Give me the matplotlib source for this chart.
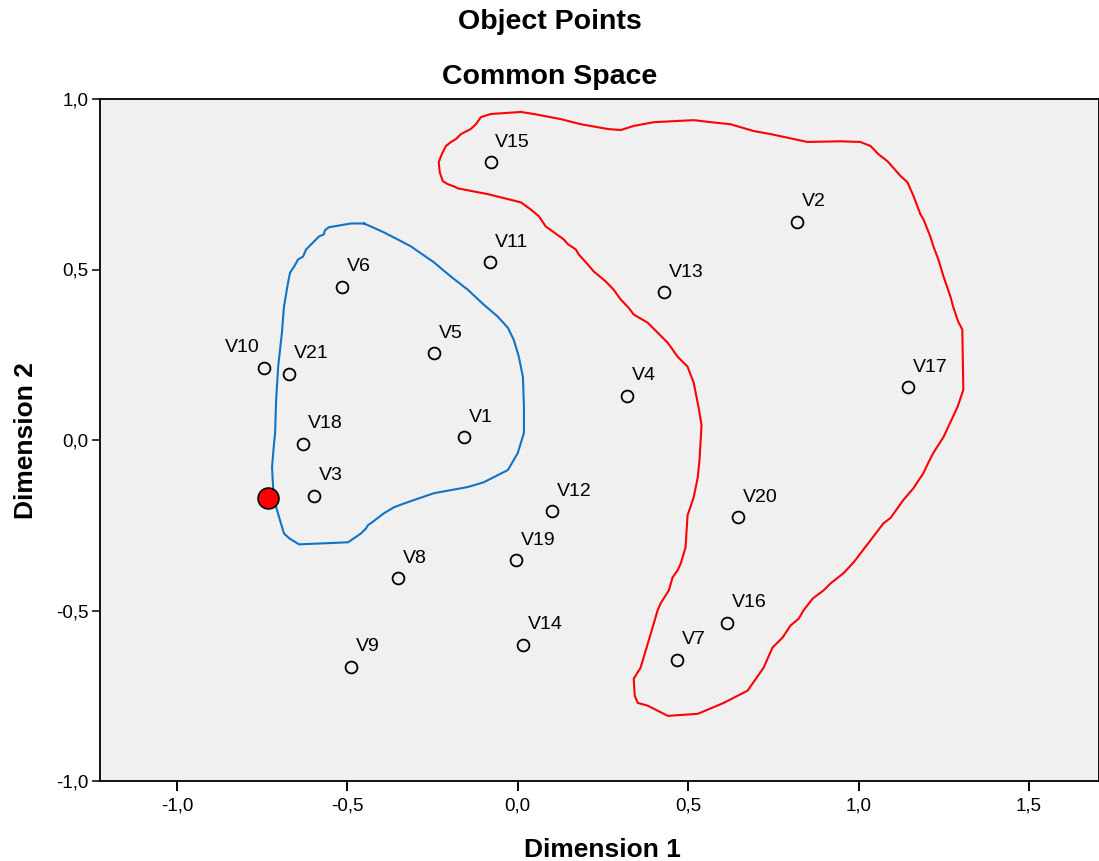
import numpy as np
import matplotlib
matplotlib.use("Agg")
import matplotlib.pyplot as plt

plt.rcParams['font.family'] = ['Liberation Sans', 'DejaVu Sans']

# object points (Dimension 1, Dimension 2)
labels = ['V1', 'V2', 'V3', 'V4', 'V5', 'V6', 'V7', 'V8', 'V9', 'V10', 'V11',
          'V12', 'V13', 'V14', 'V15', 'V16', 'V17', 'V18', 'V19', 'V20', 'V21']
dim1 = [-0.157, 0.820, -0.599, 0.320, -0.247, -0.517, 0.468, -0.352, -0.489, -0.745, -0.081,
        0.100, 0.429, 0.015, -0.080, 0.615, 1.145, -0.629, -0.006, 0.646, -0.670]
dim2 = [0.008, 0.639, -0.164, 0.129, 0.254, 0.449, -0.645, -0.406, -0.665, 0.211, 0.521,
        -0.209, 0.433, -0.600, 0.814, -0.537, 0.154, -0.011, -0.353, -0.227, 0.194]

# highlighted point
red_pt = (-0.734, -0.170)

# hand drawn group outlines
blue_x = [-0.451, -0.489, -0.554, -0.566, -0.569, -0.583, -0.601, -0.621, -0.630, -0.645,
          -0.656, -0.668, -0.674, -0.686, -0.692, -0.703, -0.709, -0.712, -0.715, -0.721,
          -0.718, -0.709, -0.695, -0.686, -0.671, -0.642, -0.498, -0.460, -0.445, -0.440,
          -0.431, -0.393, -0.363, -0.322, -0.246, -0.147, -0.100, -0.029, 0.000, 0.018,
          0.018, 0.015, 0.003, -0.012, -0.029, -0.059, -0.100, -0.147, -0.196, -0.246,
          -0.314, -0.352, -0.393, -0.451]
blue_y = [0.635, 0.635, 0.624, 0.615, 0.603, 0.597, 0.579, 0.559, 0.538, 0.529,
          0.509, 0.491, 0.462, 0.391, 0.315, 0.215, 0.118, 0.021, -0.009, -0.079,
          -0.138, -0.197, -0.244, -0.274, -0.288, -0.306, -0.300, -0.274, -0.259, -0.250,
          -0.244, -0.215, -0.197, -0.182, -0.156, -0.138, -0.124, -0.088, -0.038, 0.021,
          0.097, 0.185, 0.244, 0.294, 0.329, 0.362, 0.397, 0.441, 0.479, 0.521,
          0.568, 0.588, 0.609, 0.635]

red_x = [0.009, -0.079, -0.108, -0.123, -0.138, -0.167, -0.182, -0.196, -0.211, -0.223,
         -0.232, -0.229, -0.220, -0.205, -0.188, -0.176, -0.088, 0.009, 0.038, 0.062,
         0.082, 0.106, 0.135, 0.147, 0.170, 0.179, 0.205, 0.223, 0.234, 0.258,
         0.281, 0.302, 0.325, 0.340, 0.381, 0.410, 0.440, 0.469, 0.498, 0.516,
         0.530, 0.539, 0.533, 0.528, 0.516, 0.498, 0.492, 0.478, 0.469, 0.454,
         0.443, 0.419, 0.410, 0.390, 0.360, 0.340, 0.343, 0.352, 0.381, 0.440,
         0.528, 0.604, 0.674, 0.721, 0.747, 0.777, 0.800, 0.824, 0.838, 0.865,
         0.897, 0.917, 0.955, 0.985, 1.073, 1.093, 1.131, 1.161, 1.172, 1.190,
         1.205, 1.219, 1.249, 1.275, 1.290, 1.307, 1.304, 1.292, 1.278, 1.269,
         1.249, 1.234, 1.219, 1.210, 1.190, 1.181, 1.161, 1.143, 1.123, 1.084,
         1.058, 1.035, 1.005, 0.947, 0.850, 0.742, 0.692, 0.624, 0.566, 0.516,
         0.399, 0.340, 0.302, 0.264, 0.185, 0.126, 0.047, 0.009]
red_y = [0.962, 0.956, 0.947, 0.926, 0.912, 0.897, 0.882, 0.874, 0.862, 0.838,
         0.815, 0.785, 0.759, 0.750, 0.744, 0.738, 0.721, 0.697, 0.676, 0.656,
         0.626, 0.609, 0.588, 0.574, 0.559, 0.544, 0.515, 0.494, 0.485, 0.465,
         0.441, 0.412, 0.388, 0.368, 0.344, 0.315, 0.285, 0.244, 0.215, 0.168,
         0.097, 0.044, -0.059, -0.109, -0.168, -0.221, -0.315, -0.362, -0.382, -0.403,
         -0.441, -0.479, -0.500, -0.568, -0.668, -0.700, -0.750, -0.771, -0.779, -0.809,
         -0.803, -0.771, -0.735, -0.668, -0.609, -0.579, -0.544, -0.524, -0.500, -0.465,
         -0.441, -0.421, -0.391, -0.359, -0.244, -0.229, -0.176, -0.141, -0.124, -0.097,
         -0.065, -0.038, 0.009, 0.065, 0.097, 0.147, 0.324, 0.347, 0.388, 0.421,
         0.479, 0.529, 0.568, 0.597, 0.647, 0.662, 0.715, 0.756, 0.774, 0.818,
         0.838, 0.862, 0.874, 0.876, 0.874, 0.897, 0.906, 0.926, 0.932, 0.938,
         0.932, 0.921, 0.909, 0.912, 0.926, 0.941, 0.956, 0.962]

xticks = [-1.0, -0.5, 0.0, 0.5, 1.0, 1.5]
yticks = [-1.0, -0.5, 0.0, 0.5, 1.0]

fig = plt.figure(figsize=(10.99, 8.61), dpi=100)
ax = fig.add_axes([100 / 1099, 80 / 861, 1 - 100 / 1099, 682 / 861])
ax.set_facecolor('#f0f0f0')

ax.plot(blue_x, blue_y, color='#1272c4', lw=1.5, zorder=2)
ax.plot(red_x, red_y, color='#ff0000', lw=1.5, zorder=2)

ax.plot(dim1, dim2, 'o', ms=8.5, mfc='none', mec='black', mew=1.3, zorder=3)
ax.plot(*red_pt, 'o', ms=15, mfc='#ff0000', mec='black', mew=1.2, zorder=4)

for lab, x, y in zip(labels, dim1, dim2):
    if lab == 'V10':
        ax.annotate(lab, (x, y), xytext=(-3, 14.5), textcoords='offset points',
                    ha='right', va='center', fontsize=14)
    else:
        ax.annotate(lab, (x, y), xytext=(3.5, 14.5), textcoords='offset points',
                    ha='left', va='center', fontsize=14)

ax.set_xlim(-1.2257, 1.705)
ax.set_ylim(-1.0, 1.0)
ax.set_xticks(xticks)
ax.set_yticks(yticks)
ax.set_xticklabels([f'{t:.1f}'.replace('.', ',') for t in xticks])
ax.set_yticklabels([f'{t:.1f}'.replace('.', ',') for t in yticks])
ax.tick_params(axis='x', direction='out', length=7, width=1.4, pad=5, labelsize=13.5)
ax.tick_params(axis='y', direction='out', length=5.5, width=1.1, pad=3, labelsize=13.5)
for s in ax.spines.values():
    s.set_linewidth(1.3)

fig.text(0.5, 1 - 22 / 861, 'Object Points', ha='center', va='center',
         fontsize=20.5, fontweight='bold')
fig.text(0.5, 1 - 77 / 861, 'Common Space', ha='center', va='center',
         fontsize=20.5, fontweight='bold')
fig.text(602 / 1099, 1 - 850 / 861, 'Dimension 1', ha='center', va='center',
         fontsize=19, fontweight='bold')
fig.text(26 / 1099, 1 - 441 / 861, 'Dimension 2', ha='center', va='center',
         rotation=90, fontsize=19, fontweight='bold')

fig.savefig('out.png', dpi=100)
